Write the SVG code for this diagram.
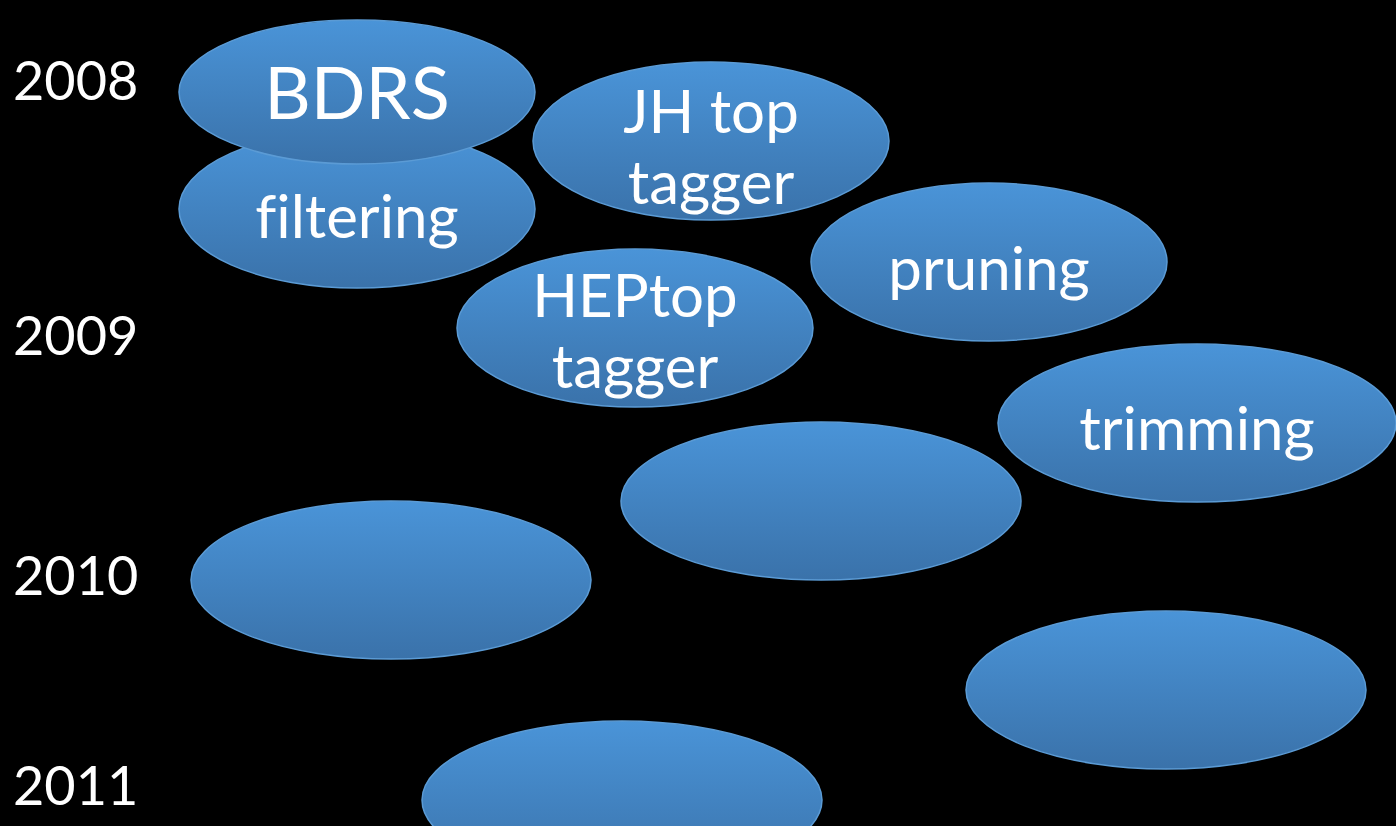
<svg xmlns="http://www.w3.org/2000/svg" width="1396" height="826" viewBox="0 0 1396 826">
<defs>
<linearGradient id="g" x1="0" y1="0" x2="0" y2="1">
<stop offset="0" stop-color="#4a94d8"/>
<stop offset="1" stop-color="#3a72aa"/>
</linearGradient>
<style>
.e{fill:url(#g);stroke:#5b9bd5;stroke-width:1.5}
.t{font-family:Lato,"Open Sans",sans-serif;fill:#fff;text-anchor:middle;font-size:60px;font-variant-ligatures:none}
.y{font-family:Lato,"Open Sans",sans-serif;fill:#fff;font-size:54px}
</style>
</defs>
<rect width="1396" height="826" fill="#000"/>
<g id="years">
<text class="y" x="13" y="100">2008</text>
<text class="y" x="13" y="355">2009</text>
<text class="y" x="13" y="595">2010</text>
<text class="y" x="13" y="805">2011</text>
</g>
<g id="filtering"><ellipse class="e" cx="357" cy="209" rx="178" ry="79"/><text class="t" x="357" y="238">filtering</text></g>
<g id="bdrs"><ellipse class="e" cx="357" cy="92" rx="178" ry="72"/><text class="t" x="357" y="119" style="font-size:72px">BDRS</text></g>
<g id="jh"><ellipse class="e" cx="711" cy="141" rx="178" ry="79"/><text class="t" x="711" y="133">JH top</text><text class="t" x="711" y="204">tagger</text></g>
<g id="pruning"><ellipse class="e" cx="989" cy="262" rx="178" ry="79"/><text class="t" x="989" y="290">pruning</text></g>
<g id="heptop"><ellipse class="e" cx="635" cy="328" rx="178" ry="79"/><text class="t" x="635" y="317">HEPtop</text><text class="t" x="635" y="388">tagger</text></g>
<g id="trimming"><ellipse class="e" cx="1197" cy="423" rx="199" ry="79"/><text class="t" x="1197" y="450">trimming</text></g>
<g id="blank1"><ellipse class="e" cx="821" cy="501" rx="200" ry="79"/></g>
<g id="blank2"><ellipse class="e" cx="391" cy="580" rx="200" ry="79"/></g>
<g id="blank3"><ellipse class="e" cx="1166" cy="690" rx="200" ry="79"/></g>
<g id="blank4"><ellipse class="e" cx="622" cy="800" rx="200" ry="79"/></g>
<g id="connectors"/>
</svg>
